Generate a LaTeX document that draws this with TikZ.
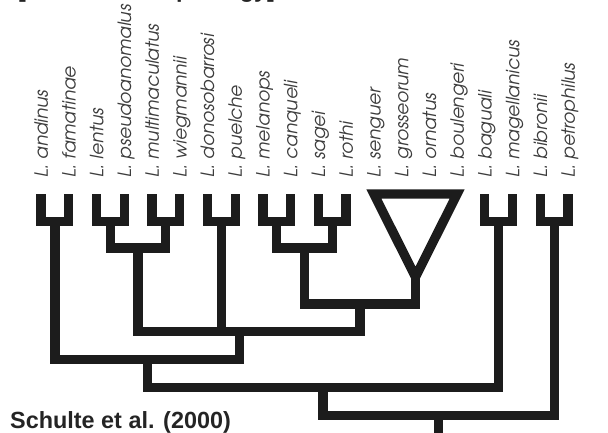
\documentclass[tikz,border=0pt]{standalone}
\usepackage{fontspec}
\setmainfont{Liberation Sans}
\newfontfamily\labelfont{texgyreadventor}[Extension=.otf, UprightFont=*-regular, ItalicFont=*-italic]
\definecolor{treeblack}{HTML}{1C1C1C}
\definecolor{labelgray}{HTML}{3C3C3C}
\definecolor{titleblack}{HTML}{242424}
\tikzset{
  branch/.style={draw=treeblack, line width=9.3pt, line join=miter, line cap=butt},
  leaflabel/.style={rotate=90, anchor=base west, inner sep=0pt, text=labelgray,
    font=\labelfont\itshape\fontsize{18.3}{19}\selectfont},
  heading/.style={anchor=base west, inner sep=0pt, text=titleblack,
    font=\bfseries\fontsize{23.4}{26}\selectfont}
}
\begin{document}
\begin{tikzpicture}[x=1pt, y=-1pt]
\useasboundingbox (0,0) rectangle (608,432);

% leaf tips and species labels
\foreach \i/\nm in {0/andinus,1/famatinae,2/lentus,3/pseudoanomalus,4/multimaculatus,
  5/wiegmannii,6/donosobarrosi,7/puelche,8/melanops,9/canqueli,10/sagei,11/rothi,
  12/senguer,13/grosseorum,14/ornatus,15/boulengeri,16/baguali,17/magellanicus,
  18/bibronii,19/petrophilus}{
  \coordinate (t\i) at ({41+27.74*\i},194);
  \node[leaflabel] (lab\i) at ({41+27.74*\i+6.8},178) {L. \nm};
}

% internal nodes
\coordinate (a01)   at (54.87,221.5);
\coordinate (a23)   at (110.35,221.5);
\coordinate (a45)   at (165.83,221.5);
\coordinate (a67)   at (221.31,221.5);
\coordinate (a89)   at (276.79,221.5);
\coordinate (a1011) at (332.27,221.5);
\coordinate (a1617) at (498.71,221.5);
\coordinate (a1819) at (554.19,221.5);
\coordinate (b25)   at (138.09,248);
\coordinate (b811)  at (304.53,248);
\coordinate (tri)   at (415.49,277);
\coordinate (c)     at (360.01,304);
\coordinate (d)     at (239.5,331.3);
\coordinate (e)     at (147.2,359.5);
\coordinate (f)     at (322.95,387.3);
\coordinate (g)     at (438.57,415.3);
\coordinate (root)  at (438.57,440);

% terminal pairs
\foreach \p/\q/\m in {0/1/a01,2/3/a23,4/5/a45,6/7/a67,8/9/a89,10/11/a1011,16/17/a1617,18/19/a1819}
  \draw[branch] (t\p) |- (\m) -| (t\q);

% collapsed clade
\draw[branch] (t12) -- (t15) -- (tri) -- cycle;

% deeper splits
\draw[branch] (a23) |- (b25) -| (a45);
\draw[branch] (a89) |- (b811) -| (a1011);
\draw[branch] (b811) |- (c) -| (tri);
\draw[branch] (b25) |- (d) -| (c);
\draw[branch] (a67) -- (a67 |- d);
\draw[branch] (a01) |- (e) -| (d);
\draw[branch] (e) |- (f) -| (a1617);
\draw[branch] (f) |- (g) -| (a1819);
\draw[branch] (g) -- (root);

% headings
\node[heading] (src) at (10,428) {Schulte et al. (2000)};
\node[heading] (top) at (18,-2.5) {[mtDNA + morphology]};
\end{tikzpicture}
\end{document}
